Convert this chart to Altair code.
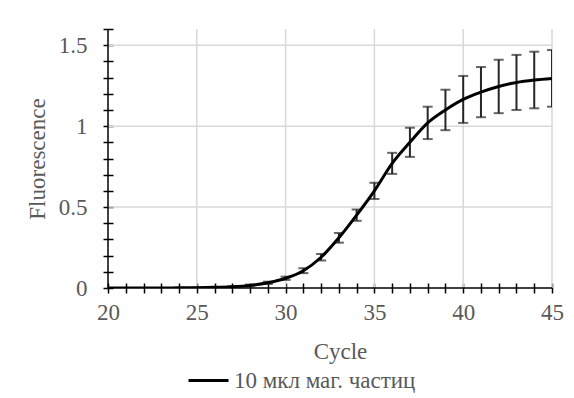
import altair as alt
import pandas as pd

# qPCR amplification curve: mean fluorescence per cycle with error bars
cycles = list(range(20, 46))
fluorescence = [0.0, 0.0, 0.0, 0.0, 0.001, 0.002, 0.004, 0.008, 0.016, 0.032,
                0.06, 0.107, 0.19, 0.31, 0.45, 0.60, 0.77, 0.90, 1.02, 1.10,
                1.165, 1.21, 1.245, 1.27, 1.285, 1.295]
error = [0.0, 0.0, 0.0, 0.0, 0.0, 0.0, 0.002, 0.003, 0.005, 0.007,
         0.01, 0.015, 0.02, 0.03, 0.035, 0.05, 0.065, 0.09, 0.10, 0.125,
         0.145, 0.155, 0.165, 0.17, 0.175, 0.175]
series_name = "10 мкл маг. частиц"

x_ticks = list(range(20, 46))
y_ticks = [round(i * 0.1, 1) for i in range(17)]
x_grid = [25, 30, 35, 40, 45]
y_grid = [0.5, 1.0, 1.5]

df = pd.DataFrame({"cycle": cycles, "fl": fluorescence, "err": error})
df["lo"] = df["fl"] - df["err"]
df["hi"] = df["fl"] + df["err"]
df["series"] = series_name

W, H = 444, 259
FONT = "'Liberation Serif', 'DejaVu Serif', serif"
FS = 23
GRAY = "#595959"
GRID = "#d9d9d9"

x_scale = alt.Scale(domain=[20, 45], nice=False, zero=False)
y_scale = alt.Scale(domain=[0, 1.6], nice=False)

# ticks cross the axis line: shift the axis inward and draw the line separately
x_axis = alt.Axis(title="Cycle", values=x_ticks, grid=False, domain=False,
                  offset=-5, tickSize=10, tickWidth=1.5, tickColor="black",
                  labelExpr="datum.value % 5 == 0 ? datum.label : ''",
                  labelFlush=False, labelPadding=8, labelFont=FONT,
                  labelFontSize=FS, labelColor=GRAY, titleFont=FONT,
                  titleFontSize=FS, titleFontWeight="normal",
                  titleColor=GRAY, titlePadding=16, titleX=232)
y_axis = alt.Axis(title="Fluorescence", values=y_ticks, grid=False, domain=False,
                  offset=-5, tickSize=10, tickWidth=1.5, tickColor="black",
                  format=".1~f",
                  labelExpr="abs(datum.value * 2 - round(datum.value * 2)) < 1e-6 ? datum.label : ''",
                  labelFlush=False, labelPadding=16, labelFont=FONT,
                  labelFontSize=FS, labelColor=GRAY, titleFont=FONT,
                  titleFontSize=FS, titleFontWeight="normal",
                  titleColor=GRAY, titlePadding=9)

hgrid = alt.Chart(pd.DataFrame({"y": y_grid, "x0": 20, "x1": 45})).mark_rule(
    color=GRID, strokeWidth=1.5
).encode(
    x=alt.X("x0:Q", scale=x_scale, axis=x_axis), x2="x1:Q",
    y=alt.Y("y:Q", scale=y_scale, axis=y_axis),
)
vgrid = alt.Chart(pd.DataFrame({"x": x_grid, "y0": 0.0, "y1": 1.6})).mark_rule(
    color=GRID, strokeWidth=1.5
).encode(
    x=alt.X("x:Q", scale=x_scale, axis=x_axis),
    y=alt.Y("y0:Q", scale=y_scale, axis=y_axis), y2="y1:Q",
)
x_line = alt.Chart(pd.DataFrame({"x0": [20], "x1": [45], "y": [0.0]})).mark_rule(
    color="black", strokeWidth=1.5
).encode(
    x=alt.X("x0:Q", scale=x_scale, axis=x_axis), x2="x1:Q",
    y=alt.Y("y:Q", scale=y_scale, axis=y_axis),
)
y_line = alt.Chart(pd.DataFrame({"x": [20], "y0": [0.0], "y1": [1.6]})).mark_rule(
    color="black", strokeWidth=1.5
).encode(
    x=alt.X("x:Q", scale=x_scale, axis=x_axis),
    y=alt.Y("y0:Q", scale=y_scale, axis=y_axis), y2="y1:Q",
)

base = alt.Chart(df)
bars = base.mark_rule(color="#262626", strokeWidth=2, clip=True).encode(
    x=alt.X("cycle:Q", scale=x_scale, axis=x_axis),
    y=alt.Y("lo:Q", scale=y_scale, axis=y_axis), y2="hi:Q",
)
cap_hi = base.mark_tick(color="#262626", orient="horizontal", size=10,
                        thickness=2, clip=True).encode(
    x=alt.X("cycle:Q", scale=x_scale, axis=x_axis),
    y=alt.Y("hi:Q", scale=y_scale, axis=y_axis),
)
cap_lo = base.mark_tick(color="#262626", orient="horizontal", size=10,
                        thickness=2, clip=True).encode(
    x=alt.X("cycle:Q", scale=x_scale, axis=x_axis),
    y=alt.Y("lo:Q", scale=y_scale, axis=y_axis),
)
curve = base.mark_line(interpolate="monotone", strokeWidth=3, clip=True).encode(
    x=alt.X("cycle:Q", scale=x_scale, axis=x_axis),
    y=alt.Y("fl:Q", scale=y_scale, axis=y_axis),
    stroke=alt.Stroke("series:N", scale=alt.Scale(range=["black"]),
                      legend=alt.Legend(title=None, orient="none",
                                        legendX=79, legendY=330,
                                        symbolType="stroke", symbolSize=1600,
                                        symbolStrokeWidth=3, labelLimit=0,
                                        labelFont=FONT, labelFontSize=FS,
                                        labelColor=GRAY, labelOffset=4)),
)

chart = alt.layer(hgrid, vgrid, bars, cap_hi, cap_lo, curve, x_line, y_line).properties(
    width=W, height=H,
    autosize=alt.AutoSizeParams(type="none"),
    padding={"left": 108, "top": 29, "right": 22, "bottom": 110},
    background="white",
).configure_view(stroke=None)

chart.save("out.html", embed_options={"renderer": "svg", "actions": False})
